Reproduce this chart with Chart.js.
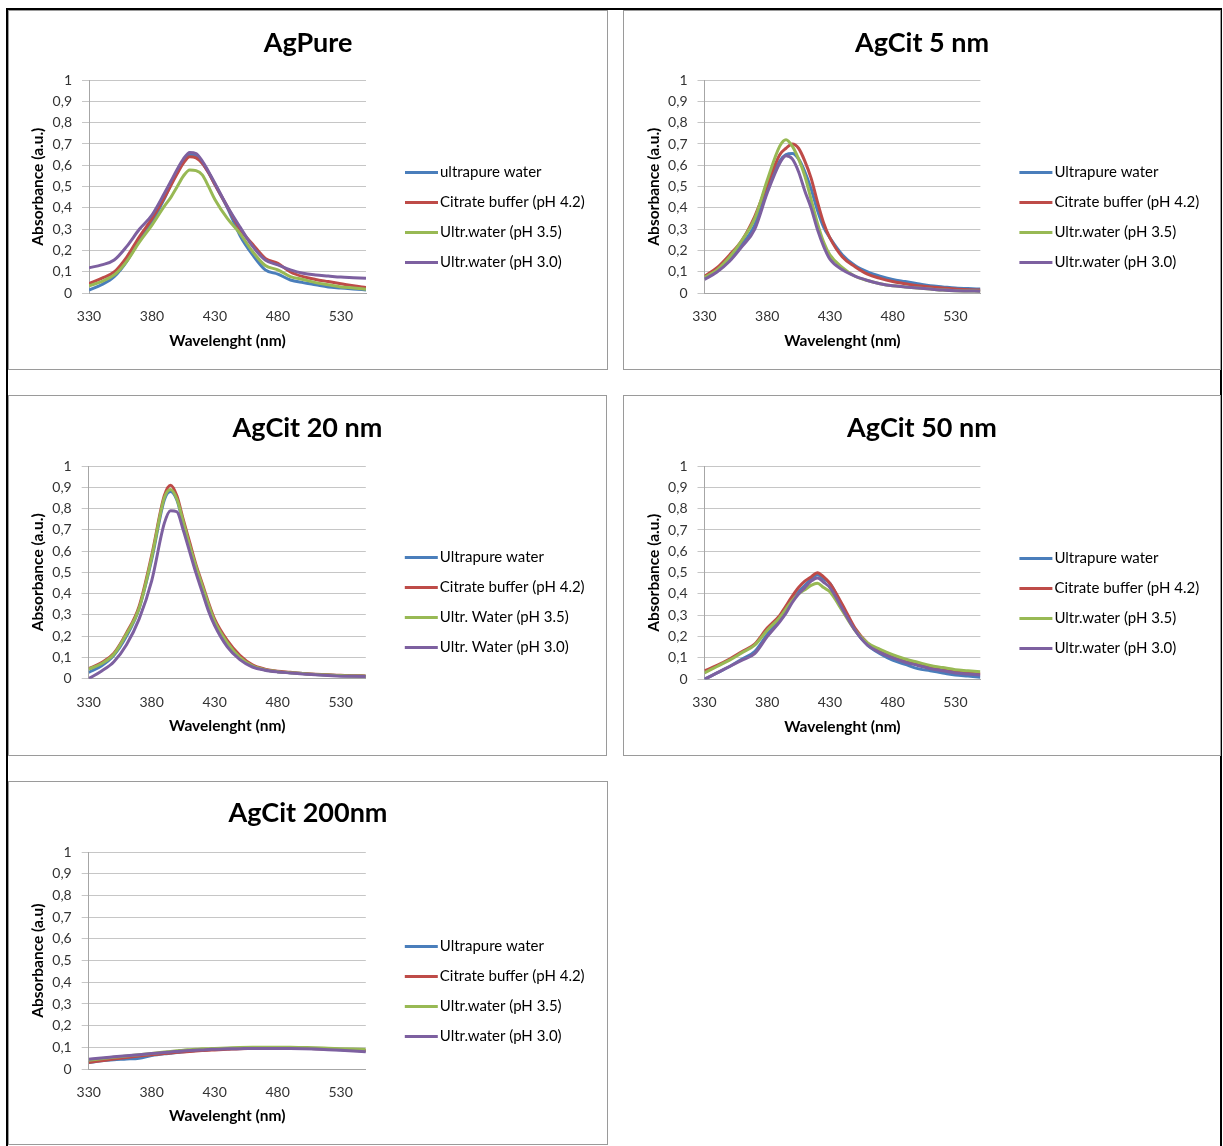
<!DOCTYPE html>
<html>
<head>
<meta charset="utf-8">
<script src="https://cdn.jsdelivr.net/npm/chart.js@4.4.1/dist/chart.umd.min.js"></script>
<style>
  body { margin: 0; background: #fff; width: 1223px; height: 1146px; overflow: hidden; position: relative; font-family: Lato, sans-serif; }
  #frame { position: absolute; left: 6px; top: 8px; width: 1216px; height: 1140px; border: 2px solid #000; box-sizing: border-box; }
  .panel { position: absolute; border: 1px solid #9a9a9a; box-sizing: border-box; background: #fff; }
  .panel canvas { display: block; }
</style>
</head>
<body>
<div id="frame"></div>
<script>
// UV-vis absorbance spectra
const wavelengths = [330, 340, 350, 360, 370, 380, 390, 395, 400, 405, 410, 415, 420, 425, 430, 440, 450, 460, 470, 480, 490, 500, 510, 520, 530, 540, 550];
const xTickValues = [330, 380, 430, 480, 530];
const xTickLabels = ['330', '380', '430', '480', '530'];
const yTickLabels = ['0', '0,1', '0,2', '0,3', '0,4', '0,5', '0,6', '0,7', '0,8', '0,9', '1'];

const panelTitles = ['AgPure', 'AgCit 5 nm', 'AgCit 20 nm', 'AgCit 50 nm', 'AgCit 200nm'];
const yTitles = ['Absorbance (a.u.)', 'Absorbance (a.u.)', 'Absorbance (a.u.)', 'Absorbance (a.u.)', 'Absorbance (a.u)'];
const xTitle = 'Wavelenght (nm)';

const legendAgPure = ['ultrapure water', 'Citrate buffer (pH 4.2)', 'Ultr.water (pH 3.5)', 'Ultr.water (pH 3.0)'];
const legendCit = ['Ultrapure water', 'Citrate buffer (pH 4.2)', 'Ultr.water (pH 3.5)', 'Ultr.water (pH 3.0)'];
const legendCit20 = ['Ultrapure water', 'Citrate buffer (pH 4.2)', 'Ultr. Water (pH 3.5)', 'Ultr. Water (pH 3.0)'];

// AgPure
const agPureWater  = [.015, .04, .078, .15, .25, .336, .445, .51, .57, .62, .65, .645, .61, .565, .51, .40, .27, .18, .11, .09, .0625, .05, .04, .03, .025, .02, .016];
const agPureCitrate = [.045, .07, .10, .17, .265, .35, .45, .505, .56, .61, .64, .635, .61, .565, .51, .405, .30, .23, .164, .14, .10, .078, .065, .055, .045, .035, .027];
const agPurePh35   = [.035, .055, .086, .15, .24, .32, .41, .45, .50, .55, .578, .575, .555, .50, .44, .35, .28, .195, .13, .11, .078, .065, .05, .04, .03, .025, .019];
const agPurePh30   = [.12, .133, .156, .22, .30, .367, .47, .525, .58, .63, .66, .655, .62, .57, .516, .406, .31, .22, .156, .133, .11, .094, .086, .081, .076, .073, .07];

// AgCit 5 nm
const cit5Water   = [.07, .11, .16, .23, .32, .49, .62, .65, .655, .63, .57, .49, .39, .31, .26, .18, .13, .10, .08, .065, .055, .045, .035, .03, .025, .022, .02];
const cit5Citrate = [.08, .12, .18, .25, .36, .51, .65, .68, .70, .68, .62, .54, .43, .33, .26, .17, .125, .09, .07, .055, .045, .035, .03, .025, .02, .017, .015];
const cit5Ph35    = [.075, .11, .17, .25, .35, .53, .69, .72, .69, .63, .55, .44, .33, .24, .18, .12, .08, .06, .045, .035, .03, .025, .02, .015, .012, .011, .01];
const cit5Ph30    = [.065, .10, .15, .22, .30, .47, .61, .645, .63, .57, .48, .40, .30, .22, .16, .11, .08, .06, .045, .035, .03, .025, .02, .015, .012, .011, .01];

// AgCit 20 nm
const cit20Water   = [.03, .06, .11, .20, .33, .56, .84, .88, .84, .73, .62, .52, .43, .34, .26, .165, .10, .06, .042, .033, .028, .024, .02, .017, .015, .013, .012];
const cit20Citrate = [.047, .075, .12, .215, .34, .58, .86, .91, .86, .75, .645, .54, .45, .36, .28, .18, .11, .065, .045, .035, .03, .025, .021, .018, .016, .014, .013];
const cit20Ph35    = [.045, .07, .115, .21, .33, .57, .85, .89, .845, .74, .63, .53, .44, .35, .27, .17, .10, .06, .042, .033, .028, .024, .02, .017, .015, .013, .012];
const cit20Ph30    = [.0, .035, .08, .16, .28, .46, .73, .79, .785, .70, .60, .50, .41, .32, .25, .15, .09, .055, .04, .032, .027, .022, .018, .015, .012, .011, .01];

// AgCit 50 nm
const cit50Water   = [.0, .03, .06, .095, .13, .21, .28, .32, .37, .41, .44, .47, .49, .47, .45, .34, .23, .16, .12, .09, .07, .05, .04, .03, .02, .015, .01];
const cit50Citrate = [.04, .065, .095, .13, .165, .24, .30, .345, .39, .43, .46, .48, .50, .48, .45, .35, .24, .17, .13, .105, .085, .07, .055, .045, .035, .03, .025];
const cit50Ph35    = [.03, .06, .09, .125, .16, .23, .29, .33, .37, .40, .42, .44, .45, .43, .41, .32, .23, .17, .14, .115, .095, .08, .065, .055, .045, .04, .035];
const cit50Ph30    = [.0, .03, .06, .09, .12, .20, .27, .31, .36, .40, .43, .46, .475, .455, .43, .33, .23, .16, .125, .10, .08, .065, .05, .04, .03, .025, .02];

// AgCit 200 nm
const cit200Water   = [.03, .038, .043, .046, .05, .062, .07, .073, .076, .079, .082, .085, .087, .089, .09, .093, .095, .096, .097, .097, .097, .096, .094, .092, .089, .086, .083];
const cit200Citrate = [.03, .038, .046, .053, .06, .066, .071, .074, .077, .079, .081, .083, .085, .087, .088, .091, .094, .095, .096, .097, .097, .096, .094, .092, .09, .087, .085];
const cit200Ph35    = [.04, .047, .054, .06, .066, .072, .078, .081, .084, .087, .089, .091, .093, .094, .095, .097, .099, .1, .1, .1, .1, .099, .098, .096, .094, .092, .09];
const cit200Ph30    = [.045, .051, .056, .061, .066, .071, .076, .079, .081, .083, .085, .087, .088, .09, .091, .093, .094, .095, .095, .095, .095, .094, .092, .089, .086, .083, .08];

const seriesColors = ['#4a7ebb', '#be4b48', '#98b954', '#7d60a0'];

// panel box [left, top, width, height] and plot area [left, right, top, bottom] in page pixels
const panels = [
  { box: [8, 10, 600, 360],   plot: [89, 366, 80, 293.3],     titleY: 43.3,  series: [agPureWater, agPureCitrate, agPurePh35, agPurePh30], labels: legendAgPure },
  { box: [623, 10, 598, 360], plot: [704.5, 980.4, 80, 293.3], titleY: 43.3, series: [cit5Water, cit5Citrate, cit5Ph35, cit5Ph30], labels: legendCit },
  { box: [8, 395, 599, 361],  plot: [88.7, 365.8, 466, 678.7], titleY: 428.3, series: [cit20Water, cit20Citrate, cit20Ph35, cit20Ph30], labels: legendCit20 },
  { box: [623, 395, 598, 361], plot: [704.5, 980.4, 466, 679.3], titleY: 428.3, series: [cit50Water, cit50Citrate, cit50Ph35, cit50Ph30], labels: legendCit },
  { box: [8, 781, 600, 364],  plot: [88.7, 365.8, 852.3, 1069], titleY: 813.3, series: [cit200Water, cit200Citrate, cit200Ph35, cit200Ph30], labels: legendCit }
];

const TITLE_SIZE = 27;
const AXIS_TITLE_SIZE = 15.5;
const TICK_SIZE = 14;
const LEGEND_SIZE = 15;

// legend drawn to the right of the plot, like the Excel original
const sideLegend = {
    id: 'sideLegend',
    afterDraw(chart) {
        const { ctx, chartArea } = chart;
        const midY = (chartArea.top + chartArea.bottom) / 2 + 30;
        const x0 = chartArea.right + 39;
        ctx.save();
        ctx.font = LEGEND_SIZE + 'px Lato';
        ctx.textBaseline = 'middle';
        ctx.textAlign = 'left';
        chart.data.datasets.forEach((ds, i) => {
            const y = Math.round(midY + (i - 1.5) * 30) + 0.5;
            ctx.strokeStyle = ds.borderColor;
            ctx.lineWidth = 3;
            ctx.beginPath();
            ctx.moveTo(x0, y);
            ctx.lineTo(x0 + 33, y);
            ctx.stroke();
            ctx.fillStyle = '#000';
            ctx.fillText(ds.label, x0 + 35, y);
        });
        ctx.restore();
    }
};

function buildPanel(p, idx) {
    const [L, T, W, H] = p.box;
    const div = document.createElement('div');
    div.className = 'panel';
    div.style.left = L + 'px';
    div.style.top = T + 'px';
    div.style.width = W + 'px';
    div.style.height = H + 'px';
    const canvas = document.createElement('canvas');
    const cw = W - 2, ch = H - 2, cx = L + 1, cy = T + 1;
    canvas.width = cw;
    canvas.height = ch;
    canvas.style.width = cw + 'px';
    canvas.style.height = ch + 'px';
    div.appendChild(canvas);
    document.body.appendChild(div);

    const pl = p.plot[0] - cx, pr = p.plot[1] - cx, pt = p.plot[2] - cy, pb = p.plot[3] - cy;
    const titleLH = TITLE_SIZE * 1.2;
    const axisLH = AXIS_TITLE_SIZE * 1.2;
    const titleTop = p.titleY - cy - titleLH / 2;
    const titleBottom = pt - titleTop - titleLH;

    const datasets = p.series.map((vals, i) => ({
        label: p.labels[i],
        data: wavelengths.map((w, j) => ({ x: w, y: vals[j] })),
        borderColor: seriesColors[i],
        backgroundColor: seriesColors[i],
        borderWidth: 3,
        pointRadius: 0,
        cubicInterpolationMode: 'monotone',
        fill: false,
        order: 3 - i,
        xAxisID: 'x',
        yAxisID: 'y'
    }));

    return new Chart(canvas, {
        type: 'line',
        data: { datasets: datasets },
        options: {
            responsive: false,
            animation: false,
            devicePixelRatio: 1,
            layout: { padding: 0 },
            plugins: {
                legend: { display: false },
                tooltip: { enabled: false },
                title: {
                    display: true,
                    text: panelTitles[idx],
                    color: '#000',
                    font: { family: 'Lato', size: TITLE_SIZE, weight: 'bold' },
                    padding: { top: titleTop, bottom: titleBottom }
                }
            },
            scales: {
                x: {
                    type: 'linear',
                    min: 330,
                    max: 550,
                    afterBuildTicks: s => { s.ticks = xTickValues.map(v => ({ value: v })); },
                    ticks: {
                        autoSkip: false,
                        maxRotation: 0,
                        color: '#333',
                        padding: 15,
                        font: { family: 'Lato', size: TICK_SIZE },
                        callback: (v, i) => xTickLabels[i]
                    },
                    grid: { display: false, drawTicks: false },
                    border: { display: true, color: '#a6a6a6', width: 1 },
                    title: {
                        display: true,
                        text: xTitle,
                        color: '#000',
                        font: { family: 'Lato', size: AXIS_TITLE_SIZE, weight: 'bold' },
                        padding: { top: 0, bottom: ch - (pb + 47.4) - axisLH / 2 }
                    },
                    afterFit: s => { s.height = ch - pb; }
                },
                y: {
                    min: 0,
                    max: 1,
                    ticks: {
                        stepSize: 0.1,
                        color: '#333',
                        padding: 10,
                        font: { family: 'Lato', size: TICK_SIZE },
                        callback: (v, i) => yTickLabels[i]
                    },
                    grid: { color: '#c6c6c6', tickLength: 7, lineWidth: 1 },
                    border: { display: true, color: '#a6a6a6', width: 1 },
                    title: {
                        display: true,
                        text: yTitles[idx],
                        color: '#000',
                        font: { family: 'Lato', size: AXIS_TITLE_SIZE, weight: 'bold' },
                        padding: { top: pl - 51 - axisLH / 2, bottom: 0 }
                    },
                    afterFit: s => { s.width = pl; }
                },
                // empty axis that only reserves the legend space on the right
                pad: {
                    type: 'linear',
                    position: 'right',
                    display: true,
                    grid: { display: false, drawTicks: false },
                    border: { display: false },
                    ticks: { display: false },
                    afterFit: s => { s.width = cw - pr; }
                }
            }
        },
        plugins: [sideLegend]
    });
}

panels.forEach(buildPanel);
</script>
</body>
</html>
